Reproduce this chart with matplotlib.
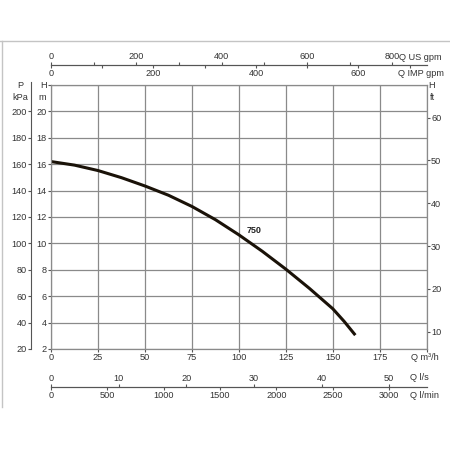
import numpy as np
import matplotlib
matplotlib.use("Agg")
import matplotlib.pyplot as plt
from matplotlib.lines import Line2D

# pump curve "750" (Q in m3/h, H in m)
q_m3h = [0, 12.5, 25, 37.5, 50, 62.5, 75, 87.5, 100, 112.5, 125, 137.5, 150, 156, 162]
h_m = [16.2, 15.93, 15.52, 14.98, 14.35, 13.65, 12.8, 11.8, 10.65, 9.4, 8.05, 6.6, 5.05, 4.1, 3.05]
curve_name = "750"

q_ticks = [0, 25, 50, 75, 100, 125, 150, 175, 200]
q_labels = ["0", "25", "50", "75", "100", "125", "150", "175", ""]
h_ticks = [2, 4, 6, 8, 10, 12, 14, 16, 18, 20, 22]
h_labels = ["2", "4", "6", "8", "10", "12", "14", "16", "18", "20", "H"]
p_ticks = [20, 40, 60, 80, 100, 120, 140, 160, 180, 200]
ft_ticks = [10, 20, 30, 40, 50, 60]
us_gpm_ticks = [0, 100, 200, 300, 400, 500, 600, 700, 800]
imp_gpm_ticks = [0, 100, 200, 300, 400, 500, 600, 700]
ls_ticks = [0, 10, 20, 30, 40, 50]
lmin_ticks = [0, 500, 1000, 1500, 2000, 2500, 3000]

US_GPM = 0.22712   # m3/h per US gpm
IMP_GPM = 0.272765  # m3/h per IMP gpm
LS = 3.6           # m3/h per l/s
LMIN = 0.06        # m3/h per l/min

plt.rcParams['font.family'] = ['Liberation Sans', 'DejaVu Sans']
TXT = '#333333'
GRID = '#8a8a8a'
AXC = '#555555'
FS = 6.6
PX = 72 / 100.0  # points per pixel


def fx(px):
    return px / 450.0


def fy(py):
    return 1 - py / 450.0


fig = plt.figure(figsize=(4.5, 4.5), dpi=100)

# main chart
ax = fig.add_axes([fx(51), fy(349), fx(426.7) - fx(51), fy(85) - fy(349)])
ax.set_xlim(0, 200)
ax.set_ylim(2, 22)
ax.set_xticks(q_ticks)
ax.set_xticklabels(q_labels)
ax.set_yticks(h_ticks)
ax.set_yticklabels(h_labels)
ax.grid(True, color=GRID, lw=0.9)
for s in ax.spines.values():
    s.set_color(GRID)
    s.set_linewidth(0.9)
ax.tick_params(axis='both', direction='out', length=3 * PX, width=0.8, color=AXC,
               labelsize=FS, labelcolor=TXT, pad=1)
ax.plot(q_m3h, h_m, color='#1a1208', lw=2.2, solid_capstyle='butt', solid_joinstyle='round')
ax.text(108, 11.0, curve_name, fontsize=6.5, fontweight='bold', color='#222222',
        family=['Liberation Sans Narrow', 'Liberation Sans'], ha='center', va='center')

# P kPa scale on the far left
ax_p = ax.twinx()
ax_p.set_ylim(20, 220)
ax_p.set_yticks(p_ticks)
for k in ['top', 'bottom', 'right']:
    ax_p.spines[k].set_visible(False)
ax_p.spines['left'].set_visible(True)
ax_p.spines['left'].set_position(('outward', 20 * PX))
ax_p.spines['left'].set_color(AXC)
ax_p.spines['left'].set_linewidth(0.8)
ax_p.spines['left'].set_bounds(20, 222.5)
ax_p.yaxis.tick_left()
ax_p.tick_params(axis='y', direction='out', length=3 * PX, width=0.8, color=AXC,
                 labelsize=FS, labelcolor=TXT, pad=1)

# H ft scale on the right (as drawn on the sheet)
ax_ft = ax.secondary_yaxis('right', functions=(lambda h: (h - 3.32) * 3.086 + 10,
                                               lambda f: (f - 10) / 3.086 + 3.32))
ax_ft.set_yticks(ft_ticks)
ax_ft.spines['right'].set_visible(False)
ax_ft.tick_params(axis='y', direction='out', length=3 * PX, width=0.8, color=AXC,
                  labelsize=FS, labelcolor=TXT, pad=1)

fig.text(fx(20), fy(86), "P", fontsize=FS, color=TXT, ha='center', va='center')
fig.text(fx(20), fy(97), "kPa", fontsize=FS, color=TXT, ha='center', va='center')
fig.text(fx(42), fy(97), "m", fontsize=FS, color=TXT, ha='center', va='center')
fig.text(fx(432), fy(86), "H", fontsize=FS, color=TXT, ha='center', va='center')
fig.text(fx(432), fy(97), "ft", fontsize=FS, color=TXT, ha='center', va='center')
fig.text(fx(411), fy(357), "Q m³/h", fontsize=FS, color=TXT, ha='left', va='center')


def scale_axis(ypx, ticks, factor, labels_every, above, name, name_x, name_y):
    sa = fig.add_axes([fx(51), fy(ypx), fx(426.7) - fx(51), 0.0001])
    sa.set_xlim(0, 200)
    sa.set_ylim(0, 1)
    sa.patch.set_visible(False)
    sa.set_yticks([])
    for k in sa.spines:
        sa.spines[k].set_visible(k == 'bottom')
    sa.spines['bottom'].set_color(AXC)
    sa.spines['bottom'].set_linewidth(0.8)
    sa.set_xticks([t * factor for t in ticks])
    sa.set_xticklabels([str(t) if t % labels_every == 0 else "" for t in ticks])
    if above:
        sa.xaxis.tick_top()
    else:
        sa.xaxis.tick_bottom()
    sa.tick_params(axis='x', direction='out', length=3 * PX, width=0.8, color=AXC,
                   labelsize=FS, labelcolor=TXT, pad=0.8)
    fig.text(fx(name_x), fy(name_y), name, fontsize=FS, color=TXT, ha='left', va='center')
    return sa


scale_axis(65, us_gpm_ticks, US_GPM, 200, True, "Q US gpm", 399, 57)
scale_axis(65, imp_gpm_ticks, IMP_GPM, 200, False, "Q IMP gpm", 398, 73)
scale_axis(387, ls_ticks, LS, 10, True, "Q l/s", 410, 378)
scale_axis(387, lmin_ticks, LMIN, 500, False, "Q l/min", 410, 396)

# light frame of the sheet
fig.add_artist(Line2D([0, 1], [fy(41), fy(41)], color='#c4c4c4', lw=1))
fig.add_artist(Line2D([fx(2), fx(2)], [fy(41), fy(407)], color='#c4c4c4', lw=1))

fig.savefig("out.png", dpi=100)
